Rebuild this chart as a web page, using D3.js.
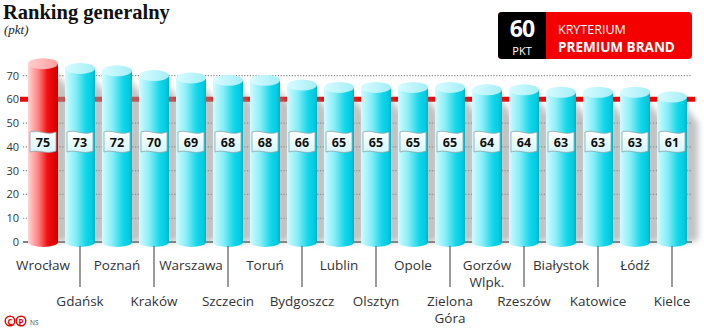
<!DOCTYPE html>
<html>
<head>
<meta charset="utf-8">
<script src="https://cdn.jsdelivr.net/npm/d3@7"></script>
<style>
  body { margin: 0; background: #fff; }
  svg { display: block; }
</style>
</head>
<body>
<div id="chart"></div>
<script>
// data
var cities = ['Wrocław', 'Gdańsk', 'Poznań', 'Kraków', 'Warszawa', 'Szczecin', 'Toruń', 'Bydgoszcz',
  'Lublin', 'Olsztyn', 'Opole', 'Zielona\nGóra', 'Gorzów\nWlpk.', 'Rzeszów', 'Białystok', 'Katowice', 'Łódź', 'Kielce'];
var values = [75, 73, 72, 70, 69, 68, 68, 66, 65, 65, 65, 65, 64, 64, 63, 63, 63, 61];
var yTicks = [0, 10, 20, 30, 40, 50, 60, 70];
var threshold = 60;

var width = 704, height = 334;
var svg = d3.select('#chart').append('svg')
  .attr('width', width)
  .attr('height', height);

var defs = svg.append('defs');

function linGrad(id, stops) {
  var g = defs.append('linearGradient').attr('id', id)
    .attr('x1', '0%').attr('x2', '100%').attr('y1', '0%').attr('y2', '0%');
  stops.forEach(function(s) {
    g.append('stop').attr('offset', s[0]).attr('stop-color', s[1]);
  });
}
linGrad('cyanBody', [[0, '#d2fbfe'], [0.35, '#86eef8'], [0.7, '#14d6ea'], [0.9, '#00cce2'], [1, '#00b4c8']]);
linGrad('cyanTop', [[0, '#d8fcff'], [1, '#a4eef7']]);
linGrad('redBody', [[0, '#ffd4d4'], [0.35, '#ff8080'], [0.65, '#f01010'], [0.9, '#e00000'], [1, '#c80000']]);
linGrad('redTop', [[0, '#ffd0d0'], [1, '#ff9c9c']]);
var bg = defs.append('linearGradient').attr('id', 'badgeFill')
  .attr('x1', '0%').attr('x2', '0%').attr('y1', '0%').attr('y2', '100%');
bg.append('stop').attr('offset', 0).attr('stop-color', '#ffffff');
bg.append('stop').attr('offset', 1).attr('stop-color', '#d4f6fa');

defs.append('filter').attr('id', 'blur')
  .attr('x', '-50%').attr('y', '-50%').attr('width', '200%').attr('height', '200%')
  .append('feGaussianBlur').attr('stdDeviation', 3);

// scales
var x = d3.scaleBand()
  .domain(cities)
  .range([24.5, 690.5])
  .paddingInner(7 / 37)
  .paddingOuter(3.5 / 37);

var y = d3.scaleLinear()
  .domain([0, 70])
  .range([242, 75.6]);

var bw = x.bandwidth();
var ry = 5.5;

// gridlines (dotted)
svg.append('g').selectAll('line')
  .data(yTicks.filter(function(t) { return t > 0 && t !== threshold; }))
  .enter().append('line')
  .attr('x1', 23).attr('x2', 692)
  .attr('y1', function(d) { return y(d); })
  .attr('y2', function(d) { return y(d); })
  .attr('stroke', '#888')
  .attr('stroke-width', 1.2)
  .attr('stroke-dasharray', '1.2,1.6');

// y axis labels
var yAxis = d3.axisLeft(y).tickValues(yTicks).tickSize(0).tickPadding(0);
var ya = svg.append('g').attr('transform', 'translate(19,0)').call(yAxis);
ya.select('.domain').remove();
ya.selectAll('text')
  .attr('font-family', 'Open Sans, sans-serif')
  .attr('font-size', 11)
  .attr('fill', '#333');

// threshold line
svg.append('line')
  .attr('x1', 20).attr('x2', 695)
  .attr('y1', y(threshold)).attr('y2', y(threshold))
  .attr('stroke', '#f00000')
  .attr('stroke-width', 5);

// baseline
svg.append('line')
  .attr('x1', 23).attr('x2', 692)
  .attr('y1', y(0)).attr('y2', y(0))
  .attr('stroke', '#555')
  .attr('stroke-width', 1.5);

// shadows
svg.append('g').selectAll('path')
  .data(values)
  .enter().append('path')
  .attr('d', function(d, i) {
    var x0 = x(cities[i]) + bw - 4, yt = y(d) + 6, yb = y(0) + 2;
    return 'M' + x0 + ',' + yt + 'L' + (x0 + 15) + ',' + (yt + 20) +
      'L' + (x0 + 15) + ',' + (yb - 4) + 'L' + x0 + ',' + yb + 'Z';
  })
  .attr('fill', '#999')
  .attr('opacity', 0.6)
  .attr('filter', 'url(#blur)');

// cylinders
var bars = svg.append('g').selectAll('g')
  .data(values)
  .enter().append('g');

bars.append('ellipse')
  .attr('cx', function(d, i) { return x(cities[i]) + bw / 2; })
  .attr('cy', y(0))
  .attr('rx', bw / 2).attr('ry', ry - 0.5)
  .attr('fill', function(d, i) { return i === 0 ? 'url(#redBody)' : 'url(#cyanBody)'; });

bars.append('rect')
  .attr('x', function(d, i) { return x(cities[i]); })
  .attr('y', function(d) { return y(d); })
  .attr('width', bw)
  .attr('height', function(d) { return y(0) - y(d); })
  .attr('fill', function(d, i) { return i === 0 ? 'url(#redBody)' : 'url(#cyanBody)'; });

bars.append('ellipse')
  .attr('cx', function(d, i) { return x(cities[i]) + bw / 2; })
  .attr('cy', function(d) { return y(d); })
  .attr('rx', bw / 2).attr('ry', ry)
  .attr('fill', function(d, i) { return i === 0 ? 'url(#redTop)' : 'url(#cyanTop)'; });

// value badges
var bwid = 26, bh = 21, by = 131;
bars.append('path')
  .attr('d', function(d, i) {
    var x0 = x(cities[i]) + bw / 2 - bwid / 2, x1 = x0 + bwid;
    return 'M' + x0 + ',' + (by + 1) +
      'C' + (x0 + 8) + ',' + (by - 2) + ' ' + (x0 + 16) + ',' + (by + 5) + ' ' + x1 + ',' + (by + 1) +
      'L' + x1 + ',' + (by + bh - 1) +
      'C' + (x0 + 16) + ',' + (by + bh + 3) + ' ' + (x0 + 8) + ',' + (by + bh - 3) + ' ' + x0 + ',' + (by + bh) + 'Z';
  })
  .attr('fill', 'url(#badgeFill)')
  .attr('stroke', '#8fa6aa')
  .attr('stroke-width', 0.8);

bars.append('text')
  .attr('x', function(d, i) { return x(cities[i]) + bw / 2; })
  .attr('y', by + 15.5)
  .attr('text-anchor', 'middle')
  .attr('font-family', 'Open Sans, sans-serif')
  .attr('font-weight', 700)
  .attr('font-size', 12.5)
  .attr('fill', '#111')
  .text(function(d) { return d; });

// x ticks between label rows
svg.append('g').selectAll('line')
  .data(cities.filter(function(c, i) { return i % 2 === 1; }))
  .enter().append('line')
  .attr('x1', function(d) { return x(d) + bw / 2; })
  .attr('x2', function(d) { return x(d) + bw / 2; })
  .attr('y1', 246).attr('y2', 287)
  .attr('stroke', '#666')
  .attr('stroke-width', 1.3);

// category labels
var labels = svg.append('g').selectAll('text')
  .data(cities)
  .enter().append('text')
  .attr('text-anchor', 'middle')
  .attr('font-family', 'Open Sans, sans-serif')
  .attr('font-size', 13.5)
  .attr('fill', '#333')
  .attr('transform', function(d, i) {
    return 'translate(' + (x(d) + bw / 2) + ',' + (i % 2 === 0 ? 270 : 306) + ')';
  });
labels.selectAll('tspan')
  .data(function(d) { return d.split('\n'); })
  .enter().append('tspan')
  .attr('x', 0)
  .attr('dy', function(d, j) { return j === 0 ? 0 : 17; })
  .text(function(d) { return d; });

// title
svg.append('text')
  .attr('x', 3).attr('y', 19)
  .attr('font-family', 'Liberation Serif, serif')
  .attr('font-weight', 700)
  .attr('font-size', 20.5)
  .attr('fill', '#111')
  .text('Ranking generalny');
svg.append('text')
  .attr('x', 4).attr('y', 34)
  .attr('font-family', 'Liberation Serif, serif')
  .attr('font-style', 'italic')
  .attr('font-size', 13)
  .attr('fill', '#222')
  .text('(pkt)');

// criterion badge
var badge = svg.append('g');
badge.append('rect')
  .attr('x', 498).attr('y', 12).attr('width', 194).attr('height', 47)
  .attr('rx', 4).attr('fill', '#f40000');
badge.append('path')
  .attr('d', 'M546,12 L502,12 Q498,12 498,16 L498,55 Q498,59 502,59 L546,59 Z')
  .attr('fill', '#000');
badge.append('text')
  .attr('x', 522).attr('y', 37)
  .attr('text-anchor', 'middle')
  .attr('font-family', 'Open Sans, sans-serif')
  .attr('font-weight', 700)
  .attr('font-size', 23)
  .attr('letter-spacing', -1)
  .attr('fill', '#fff')
  .text('60');
badge.append('text')
  .attr('x', 522).attr('y', 55)
  .attr('text-anchor', 'middle')
  .attr('font-family', 'Open Sans, sans-serif')
  .attr('font-size', 11)
  .attr('fill', '#fff')
  .text('PKT');
badge.append('text')
  .attr('x', 558).attr('y', 34)
  .attr('font-family', 'Open Sans, sans-serif')
  .attr('font-size', 12.5)
  .attr('fill', '#fff')
  .text('KRYTERIUM');
badge.append('text')
  .attr('x', 558).attr('y', 52)
  .attr('font-family', 'Open Sans, sans-serif')
  .attr('font-weight', 700)
  .attr('font-size', 13.5)
  .attr('fill', '#fff')
  .text('PREMIUM BRAND');

// footer
var foot = svg.append('g');
[['C', 10], ['P', 21]].forEach(function(c) {
  foot.append('circle')
    .attr('cx', c[1]).attr('cy', 321).attr('r', 4.8)
    .attr('fill', 'none').attr('stroke', '#e00000').attr('stroke-width', 1.4);
  foot.append('text')
    .attr('x', c[1]).attr('y', 324.5)
    .attr('text-anchor', 'middle')
    .attr('font-family', 'Open Sans, sans-serif')
    .attr('font-weight', 700)
    .attr('font-size', 8)
    .attr('fill', '#e00000')
    .text(c[0]);
});
foot.append('text')
  .attr('x', 30).attr('y', 325)
  .attr('font-family', 'Open Sans, sans-serif')
  .attr('font-size', 6.5)
  .attr('fill', '#444')
  .text('NS');
</script>
</body>
</html>
